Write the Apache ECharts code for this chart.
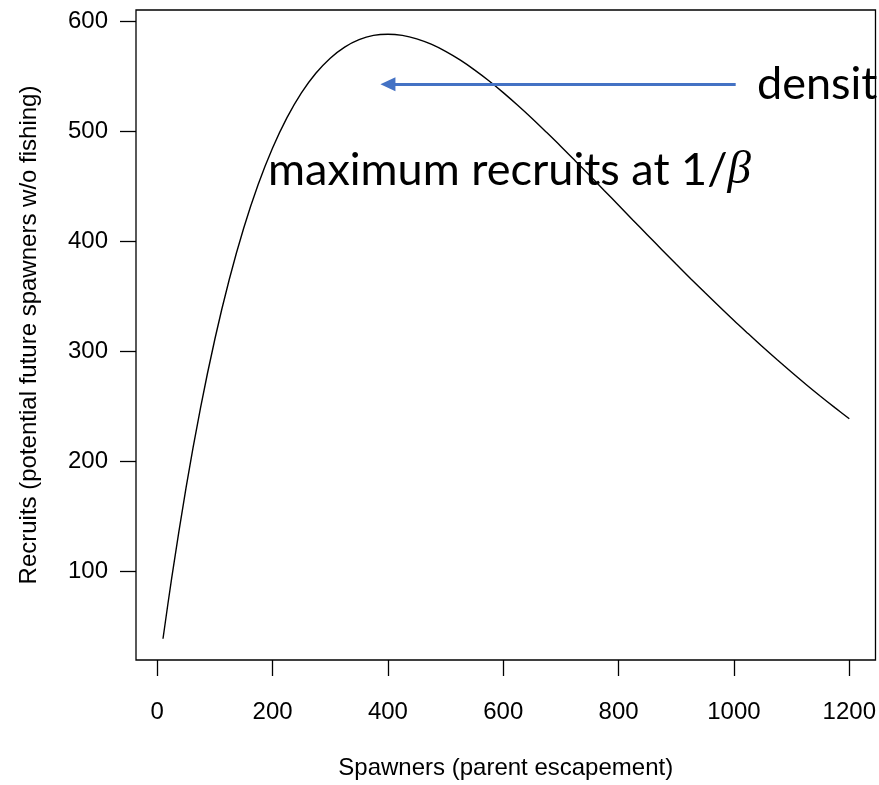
<!DOCTYPE html>
<html>
<head>
<meta charset="utf-8">
<script src="https://cdn.jsdelivr.net/npm/echarts@6/dist/echarts.min.js"></script>
<style>
  html, body { margin: 0; padding: 0; background: #fff; }
  #chart { width: 879px; height: 785px; }
</style>
</head>
<body>
<div id="chart"></div>
<script>
// Ricker stock–recruitment curve: spawners (S) vs recruits (R)
const spawners = [10, 25, 50, 75, 100, 125, 150, 175, 200, 225, 250, 275, 300, 325, 350, 375, 400, 425, 450, 475, 500,
                  525, 550, 575, 600, 625, 650, 675, 700, 725, 750, 775, 800, 825, 850, 875, 900, 925, 950, 975, 1000,
                  1025, 1050, 1075, 1100, 1125, 1150, 1175, 1200];
const recruits = [39.0, 93.9, 176.5, 248.7, 311.5, 365.8, 412.4, 452.0, 485.2, 512.8, 535.3, 553.1, 566.8, 576.9, 583.6, 587.5, 588.6, 587.5, 584.4, 579.5, 573.0,
                  565.2, 556.2, 546.3, 535.5, 524.0, 512.0, 499.4, 486.6, 473.4, 460.1, 446.6, 433.1, 419.5, 406.1, 392.7, 379.4, 366.3, 353.5, 340.8, 328.3,
                  316.2, 304.2, 292.6, 281.3, 270.2, 259.5, 249.1, 239.0];

// Tick positions on each axis
const xTicks = [0, 200, 400, 600, 800, 1000, 1200];
const yTicks = [100, 200, 300, 400, 500, 600];

// Annotation arrow (pointing at the peak, S = 1/beta)
const arrowFrom = [1003, 543];
const arrowTo = [400, 543];

const curve = spawners.map((s, i) => [s, recruits[i]]);

const axisFont = { fontFamily: 'Liberation Sans', fontSize: 24, color: '#000' };

const chart = echarts.init(document.getElementById('chart'), null, { renderer: 'canvas' });

chart.setOption({
  animation: false,
  backgroundColor: '#fff',
  grid: {
    left: 136, right: 1, top: 10, bottom: 125,
    show: true, borderColor: '#000', borderWidth: 1.3, backgroundColor: 'transparent'
  },
  xAxis: {
    type: 'value',
    min: -36.8, max: 1245.4,
    name: 'Spawners (parent escapement)',
    nameLocation: 'middle',
    nameGap: 96,
    nameTextStyle: axisFont,
    splitLine: { show: false },
    axisLine: { show: false, onZero: false },
    axisTick: { show: true, length: 16, lineStyle: { color: '#000', width: 1.3 }, customValues: xTicks },
    axisLabel: Object.assign({ margin: 40, customValues: xTicks, formatter: v => String(v) }, axisFont)
  },
  yAxis: {
    type: 'value',
    min: 19.7, max: 610.6,
    name: 'Recruits (potential future spawners w/o fishing)',
    nameLocation: 'middle',
    nameGap: 95,
    nameTextStyle: axisFont,
    splitLine: { show: false },
    axisLine: { show: false, onZero: false },
    axisTick: { show: true, length: 16, lineStyle: { color: '#000', width: 1.3 }, customValues: yTicks },
    axisLabel: Object.assign({ margin: 28, customValues: yTicks, formatter: v => String(v) }, axisFont)
  },
  series: [
    {
      type: 'line',
      data: curve,
      smooth: 0.3,
      showSymbol: false,
      lineStyle: { color: '#000', width: 1.4 },
      markLine: {
        silent: true,
        symbol: ['none', 'triangle'],
        symbolSize: [14, 15],
        symbolRotate: 90,
        label: { show: false },
        lineStyle: { color: '#4472C4', width: 3, type: 'solid' },
        data: [[{ coord: arrowFrom }, { coord: arrowTo }]]
      }
    }
  ],
  graphic: [
    {
      type: 'text',
      left: 757, top: 62,
      style: {
        text: 'densit',
        font: '45px Lato',
        fill: '#000'
      }
    },
    {
      type: 'text',
      left: 268, top: 147,
      style: {
        text: 'maximum recruits at 1/{b|β}',
        font: '45px Lato',
        fill: '#000',
        rich: {
          b: { fontFamily: 'Liberation Serif', fontStyle: 'italic', fontSize: 47, fill: '#000' }
        }
      }
    }
  ]
});
</script>
</body>
</html>
